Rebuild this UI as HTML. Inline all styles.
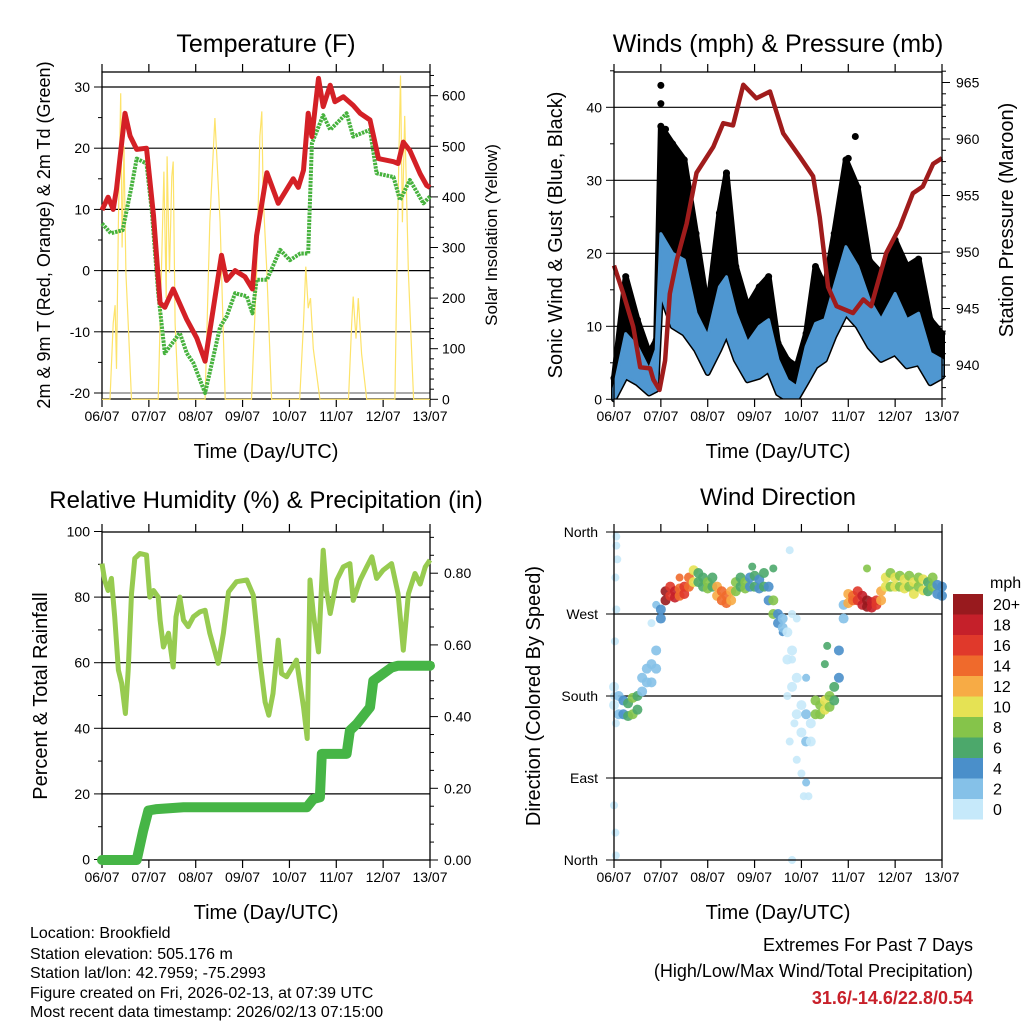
<!DOCTYPE html>
<html><head><meta charset="utf-8"><style>
html,body{margin:0;padding:0;background:#fff;width:1024px;height:1024px;overflow:hidden}
svg{display:block;font-family:"Liberation Sans",Arial,sans-serif}
</style></head><body>
<svg id="root" width="1024" height="1024" viewBox="0 0 1024 1024" xmlns="http://www.w3.org/2000/svg"></svg>
<script>
// ---------- DATA ----------
const dayLabels = ["06/07","07/07","08/07","09/07","10/07","11/07","12/07","13/07"];
// Temperature panel
const tempT = [0,.13,.24,.31,.49,.6,.74,.95,1.1,1.24,1.34,1.52,1.81,2.02,2.2,2.38,2.55,2.66,2.84,3.05,3.21,3.3,3.52,3.76,4.08,4.19,4.3,4.4,4.48,4.62,4.72,4.87,4.97,5.15,5.36,5.51,5.72,5.9,6.22,6.32,6.43,6.57,6.79,6.93,7.0];
const tempV = [9.9,12,10,13.3,25.7,22,19.8,20,9,-5.3,-6,-3,-8,-11,-14.8,-6,2.5,-1.6,0,-1,-3,5.7,16,11,15,13.6,16.4,25.7,21.9,31.4,26.8,30.3,27.6,28.4,27,25.7,24.6,18.3,17.8,17.5,21,19.6,15.8,13.9,13.6];
const dewT = [0,.19,.44,.63,.74,.95,1.06,1.2,1.34,1.66,1.81,1.95,2.2,2.52,2.66,2.84,3.09,3.21,3.3,3.52,3.8,4.01,4.23,4.4,4.48,4.72,4.87,5.22,5.36,5.72,5.86,6.22,6.36,6.57,6.86,7.0];
const dewV = [7.7,6.1,6.6,13.7,18.3,17.5,9.9,-3.7,-13.5,-10.2,-13.5,-15.1,-20,-9.2,-7.5,-3.7,-4.2,-7,-1.5,-1.5,3.4,1.7,2.8,2.8,20.8,25.4,23,25.7,21.9,23,15.9,15.3,11.5,14.8,11,12.1];
const solarT = [0,.17,.24,.28,.31,.35,.40,.43,.47,.51,.56,.63,1.2,1.32,1.37,1.39,1.44,1.49,1.52,1.56,1.63,2.2,2.3,2.41,2.52,2.63,3.19,3.3,3.37,3.41,3.44,3.52,3.62,4.22,4.3,4.35,4.4,4.45,4.51,4.65,5.26,5.33,5.36,5.42,5.47,5.54,5.65,6.25,6.32,6.37,6.41,6.46,6.54,6.65,7.0];
const solarV = [0,0,150,186,60,350,605,300,500,250,150,0,0,450,200,480,250,440,470,150,0,0,350,556,350,0,0,250,520,569,400,250,0,0,150,262,180,200,100,0,0,150,203,120,200,90,0,0,400,640,350,560,250,0,0];
// Winds panel
const windT = [0,.25,.5,.75,.9,1.0,1.25,1.5,1.75,2.0,2.25,2.4,2.6,2.85,3.1,3.3,3.5,3.7,3.9,4.1,4.3,4.5,4.7,4.95,5.2,5.45,5.7,6.0,6.25,6.5,6.75,7.0];
const gustTop = [2.9,16.8,10.9,6.3,8.1,37.4,35,32.8,22.7,12.2,25.5,31,18.2,12.7,15.4,16.8,7.7,5.4,4.5,9,18.2,15.4,22.7,32.8,29,19,17.3,21.8,18.2,19.2,10.9,9];
const windTop = [1.5,9,7.2,4,6.8,22.7,20,19.1,11.8,8.6,15.4,16.8,11.8,7.7,10,10.9,5.4,2.6,1.7,7.2,10.4,10.9,15.4,20.9,18.2,13.6,10.9,14.5,10.9,11.8,6.3,5.4];
const windLow = [0,3.1,2.2,.8,1.3,14.5,10,9,6.8,3.6,6.8,9,5.4,2.6,3.1,4,.8,0,0,2.2,4.5,5.4,8.6,11.8,10,7.2,5.4,6.3,4.5,4.9,2.2,3.1];
const gustPeakT = [1.0,1.0,1.05,2.4,5.15,5.0,1.1,1.3];
const gustPeakV = [43,40.5,35,31,36,33,37,34];
const presT = [0,.2,.41,.56,.77,.84,.97,1.09,1.19,1.34,1.55,1.76,2.12,2.33,2.54,2.76,3.04,3.33,3.61,3.97,4.25,4.39,4.57,4.75,5.1,5.32,5.49,5.81,6.1,6.38,6.59,6.81,7.0];
const presV = [948.8,946.3,943.4,939.8,939.7,938.7,937.8,940.4,946.3,949.3,952.5,957,959.3,961.4,961.2,964.8,963.6,964.2,960.5,958.4,956.7,953.1,946.9,945.2,944.6,945.8,945.2,949.9,952.2,955.2,955.8,957.8,958.3];
// RH & precip panel
const rhT = [0,.06,.13,.2,.27,.35,.42,.5,.56,.63,.7,.81,.95,1.02,1.1,1.2,1.24,1.31,1.42,1.52,1.58,1.66,1.74,1.84,1.95,2.09,2.2,2.3,2.48,2.59,2.7,2.87,3.09,3.23,3.37,3.48,3.56,3.65,3.76,3.83,3.94,4.15,4.3,4.38,4.44,4.51,4.62,4.72,4.79,4.87,5.01,5.15,5.29,5.36,5.51,5.65,5.76,5.86,6.0,6.18,6.32,6.43,6.54,6.68,6.79,6.9,7.0];
const rhV = [90.2,85,82,85.7,74,57.7,53.7,44.5,57.7,81,91.8,93.3,92.8,80,82,80,73,64.8,69,58.7,74,80,73,71,74,75.5,76,69,59.8,69,81.6,84.7,85.2,80.6,60.8,48,44,50.6,66.9,56.7,55.7,60.8,46.5,36.9,85.2,75,63.3,94.3,82,75,85.2,89.2,90.2,79,85.2,89.2,92.3,85.7,88.2,90.2,81,63.8,81,87.2,84,89.2,91.3];
const rainT = [0,.74,.88,.99,1.17,1.74,4.37,4.51,4.65,4.69,5.22,5.29,5.44,5.72,5.79,5.94,6.18,6.32,7.0];
const rainV = [0,0,.082,.138,.142,.147,.147,.17,.175,.296,.296,.361,.38,.426,.5,.514,.537,.542,.542];
// Wind direction panel
const dirT = [0,.1,.2,.3,.4,.5,.6,.7,.8,.9,1,1.1,1.2,1.3,1.4,1.5,1.6,1.7,1.8,1.9,2,2.1,2.2,2.3,2.4,2.5,2.6,2.7,2.8,2.9,3,3.1,3.2,3.3,3.4,3.5,3.6,3.7,3.8,3.9,4,4.1,4.2,4.3,4.4,4.5,4.6,4.7,4.8,4.9,5,5.1,5.2,5.3,5.4,5.5,5.6,5.7,5.8,5.9,6,6.1,6.2,6.3,6.4,6.5,6.6,6.7,6.8,6.9,7];
const dirA = [190,180,175,172,178,180,200,210,215,230,275,295,300,295,298,300,310,318,315,310,305,310,300,295,290,295,305,310,305,310,312,308,315,300,285,270,265,250,230,200,170,160,150,175,170,175,180,190,230,280,292,290,295,290,285,283,285,295,310,315,310,312,308,312,305,310,308,305,310,302,300];
const dirB = [170,160,160,158,160,165,185,195,195,210,265,285,290,288,290,292,300,305,305,300,298,300,290,285,282,285,295,300,298,300,300,298,300,285,270,260,255,220,190,160,140,130,130,160,160,165,168,175,200,265,282,285,285,280,278,277,280,285,300,300,300,300,298,300,292,300,296,295,300,292,290];
const dirSpd = [1,3,5,7,8,7,2,2,3,2,4,20,16,18,15,17,14,10,7,6,8,7,12,14,15,13,9,6,8,5,7,4,6,5,9,4,3,1,1,1,1,2,1,8,9,10,8,7,4,3,12,14,16,19,20,19,17,12,10,8,10,9,11,8,10,8,11,6,8,4,4];
const outT = [0.05,0.05,0.07,0.03,0.05,0.02,0.0,0.04,0.0,0.03,0.04,0.8,0.9,3.75,3.8,3.9,3.8,3.7,3.85,3.75,3.9,4.0,4.1,4.05,4.15,3.8,4.1,3.6,4.55,4.5,1.4,2.95,3.4,5.4];
const outD = [355,345,330,310,275,240,180,150,60,30,5,260,280,340,270,265,220,180,150,130,110,95,85,70,70,0,200,250,235,215,310,322,320,320];
const outS = [0,0,0,0,0,0,1,0,1,1,0,1,3,0,0,0,1,0,0,0,0,0,2,0,0,0,3,4,6,7,15,6,6,8];
const cbColors = ["#c6e9fa","#85c1e8","#4a8fca","#4ca86b","#85c44a","#e5e254","#f7ab45","#ef6a2c","#e0392b","#c5202a","#981a1e"];
const cbLabels = ["0","2","4","6","8","10","12","14","16","18","20+"];

// ---------- HELPERS ----------
const NS = "http://www.w3.org/2000/svg";
const root = document.getElementById("root");
function el(tag, attrs, parent){ const e=document.createElementNS(NS,tag); for(const k in attrs) e.setAttribute(k,attrs[k]); (parent||root).appendChild(e); return e; }
function txt(s, x, y, size, anchor, parent, extra){ const t=el("text",Object.assign({x:x,y:y,"font-size":size,"text-anchor":anchor||"middle",fill:"#000"},extra||{}),parent); t.textContent=s; return t; }
function linePath(xs, ys){ return xs.map((x,i)=>(i?"L":"M")+x.toFixed(1)+","+ys[i].toFixed(1)).join(""); }

function frame(g, x0, x1, y0, y1, xs){
  const r = el("rect",{x:x0,y:y0,width:x1-x0,height:y1-y0,fill:"none",stroke:"#000","stroke-width":1.3},g);
  
  
  for(let d=0; d<=7; d++){
    const x = xs(d);
    el("line",{x1:x,x2:x,y1:y1,y2:y1+8,stroke:"#000","stroke-width":1.2},g);
    el("line",{x1:x,x2:x,y1:y0,y2:y0-8,stroke:"#000","stroke-width":1.2},g);
    const t = txt(dayLabels[d], x, y1+22, 14, "middle", g);
    
    
  }
}
function hgrid(g, x0, x1, y, col){ el("line",{x1:x0,x2:x1,y1:y,y2:y,stroke:col||"#000","stroke-width":1.2},g); }

// ---------- PANEL 1: TEMPERATURE ----------
(function(){
  const g = el("g",{});
  
  
  const X0=102,X1=430,Y0=72,Y1=399;
  const xs = d => X0 + d*(X1-X0)/7;
  const yL = v => 393 - (v+20)*6.12;
  const yR = s => 399.3 - s*0.506;
  [30,20,10,0,-10].forEach(v=>hgrid(g,X0,X1,yL(v)));
  hgrid(g,X0,X1,yL(-20),"#777");
  frame(g,X0,X1,Y0,Y1,xs);
  for(let v=-20; v<=30; v+=10){ el("line",{x1:X0-8,x2:X0,y1:yL(v),y2:yL(v),stroke:"#000"},g);
    const t=txt(String(v),X0-12,yL(v)+5,14,"end",g);
    
     }
  for(let v=-15; v<=25; v+=10){ el("line",{x1:X0-4,x2:X0,y1:yL(v),y2:yL(v),stroke:"#000"},g); }
  for(let s=0; s<=640; s+=20){ const big=s%100===0; el("line",{x1:X1,x2:X1+(big?8:4),y1:yR(s),y2:yR(s),stroke:"#000"},g); }
  for(let s=0; s<=600; s+=100){ const t=txt(String(s),X1+12,yR(s)+5,14,"start",g);
    
     }
  const sol = el("path",{d:linePath(solarT.map(xs),solarV.map(yR)),fill:"none",stroke:"#fde36a","stroke-width":1.2},g);
  
  
  const dew = el("path",{d:linePath(dewT.map(xs),dewV.map(yL)),fill:"none",stroke:"#47b23e","stroke-width":4,"stroke-dasharray":"2.5 1","stroke-linejoin":"round"},g);
  
  
  const tmp = el("path",{d:linePath(tempT.map(xs),tempV.map(yL)),fill:"none",stroke:"#d42026","stroke-width":5,"stroke-linejoin":"round"},g);
  
  
  const ti=txt("Temperature (F)",266,52,25,"middle",g);  
  const xl=txt("Time (Day/UTC)",266,458,20,"middle",g);  
  const yl=txt("2m & 9m T (Red, Orange) & 2m Td (Green)",0,0,18,"middle",g,{transform:"translate(50,235) rotate(-90)"});  
  const yr=txt("Solar Insolation (Yellow)",0,0,17,"middle",g,{transform:"translate(497,235) rotate(-90)"});  
})();

// ---------- PANEL 2: WINDS ----------
(function(){
  const g = el("g",{});
  
  
  const X0=614,X1=942,Y0=72,Y1=399;
  const xs = d => X0 + d*(X1-X0)/7;
  const yL = v => 399.3 - v*7.3;
  const yR = p => 365 - (p-940)*11.3;
  [10,20,30,40].forEach(v=>hgrid(g,X0,X1,yL(v)));
  const gp = linePath(windT.map(xs),gustTop.map(yL)) + windT.slice().reverse().map(t=>"L"+xs(t).toFixed(1)+","+yL(windLow[windT.indexOf(t)]).toFixed(1)).join("")+"Z";
  const gb = el("path",{d:gp,fill:"#000",stroke:"#000","stroke-width":6,"stroke-linejoin":"round"},g);
  
  
  windT.forEach((t,i)=>{ const c=el("circle",{cx:xs(t),cy:yL(gustTop[i]),r:3.5,fill:"#000"},g);
    
     });
  gustPeakT.forEach((t,i)=>{ const c=el("circle",{cx:xs(t),cy:yL(gustPeakV[i]),r:3.5,fill:"#000"},g);
    
     });
  const wp = linePath(windT.map(xs),windTop.map(yL)) + windT.slice().reverse().map(t=>"L"+xs(t).toFixed(1)+","+yL(windLow[windT.indexOf(t)]).toFixed(1)).join("")+"Z";
  const wb = el("path",{d:wp,fill:"#4f97d1",stroke:"#4f97d1","stroke-width":3,"stroke-linejoin":"round"},g);
  
  
  const pr = el("path",{d:linePath(presT.map(xs),presV.map(yR)),fill:"none",stroke:"#a01c1c","stroke-width":4.5,"stroke-linejoin":"round"},g);
  
  
  el("rect",{x:X0,y:Y1,width:X1-X0,height:12,fill:"#fff"},g);
  frame(g,X0,X1,Y0,Y1,xs);
  for(let v=0; v<=40; v+=10){ el("line",{x1:X0-8,x2:X0,y1:yL(v),y2:yL(v),stroke:"#000"},g);
    const t=txt(String(v),X0-12,yL(v)+5,14,"end",g);
    
     }
  for(let v=5; v<=45; v+=10){ el("line",{x1:X0-4,x2:X0,y1:yL(v),y2:yL(v),stroke:"#000"},g); }
  for(let p=937; p<=966; p++){ const big=p%5===0; el("line",{x1:X1,x2:X1+(big?8:4),y1:yR(p),y2:yR(p),stroke:"#000"},g); }
  for(let p=940; p<=965; p+=5){ const t=txt(String(p),X1+14,yR(p)+5,14,"start",g);
    
     }
  const ti=txt("Winds (mph) & Pressure (mb)",778,52,25,"middle",g);  
  const xl=txt("Time (Day/UTC)",778,458,20,"middle",g);  
  const yl=txt("Sonic Wind & Gust (Blue, Black)",0,0,20,"middle",g,{transform:"translate(562,235) rotate(-90)"});  
  const yr=txt("Station Pressure (Maroon)",0,0,20,"middle",g,{transform:"translate(1013,220) rotate(-90)"});  
})();

// ---------- PANEL 3: RH & PRECIP ----------
(function(){
  const g = el("g",{});
  
  
  const X0=102,X1=430,Y0=532,Y1=860;
  const xs = d => X0 + d*(X1-X0)/7;
  const yL = v => 859.5 - v*3.28;
  const yR = r => 860 - r*358.5;
  [80,60,40,20].forEach(v=>hgrid(g,X0,X1,yL(v)));
  frame(g,X0,X1,Y0,Y1,xs);
  for(let v=0; v<=100; v+=20){ el("line",{x1:X0-8,x2:X0,y1:yL(v),y2:yL(v),stroke:"#000"},g);
    const t=txt(String(v),X0-12,yL(v)+5,14,"end",g);
    
     }
  for(let v=10; v<=90; v+=20){ el("line",{x1:X0-4,x2:X0,y1:yL(v),y2:yL(v),stroke:"#000"},g); }
  for(let i=0; i<=18; i++){ const r=i*0.05; const big=i%4===0; el("line",{x1:X1,x2:X1+(big?8:4),y1:yR(r),y2:yR(r),stroke:"#000"},g); }
  for(let i=0; i<=4; i++){ const r=i*0.2; const t=txt(r.toFixed(2),X1+14,yR(r)+5,14,"start",g);
    
     }
  const rh = el("path",{d:linePath(rhT.map(xs),rhV.map(yL)),fill:"none",stroke:"#97cb50","stroke-width":5,"stroke-linejoin":"round"},g);
  
  
  const rn = el("path",{d:linePath(rainT.map(xs),rainV.map(yR)),fill:"none",stroke:"#46b546","stroke-width":10,"stroke-linejoin":"round","stroke-linecap":"round"},g);
  
  
  const ti=txt("Relative Humidity (%) & Precipitation (in)",266,508,24,"middle",g);  
  const xl=txt("Time (Day/UTC)",266,919,20,"middle",g);  
  const yl=txt("Percent & Total Rainfall",0,0,20,"middle",g,{transform:"translate(47,696) rotate(-90)"});  
})();

// ---------- PANEL 4: WIND DIRECTION ----------
(function(){
  const g = el("g",{});
  
  
  const X0=614,X1=942,Y0=532,Y1=860;
  const xs = d => X0 + d*(X1-X0)/7;
  const yD = d => 860 - d*0.9111;
  const col = s => cbColors[Math.min(10,Math.max(0,Math.floor(s/2)))];
  [90,180,270].forEach(v=>hgrid(g,X0,X1,yD(v)));
  outT.forEach((t,i)=>{ const c=el("circle",{cx:xs(t),cy:yD(outD[i]),r:4,fill:col(outS[i]),"fill-opacity":0.9},g);
    
     });
  dirT.forEach((t,i)=>{
    const c1=el("circle",{cx:xs(t),cy:yD(dirB[i]),r:5,fill:col(dirSpd[i]),"fill-opacity":0.9},g);
    
    
    const c2=el("circle",{cx:xs(t),cy:yD(dirA[i]),r:5,fill:col(dirSpd[i]),"fill-opacity":0.9},g);
    
    
  });
  frame(g,X0,X1,Y0,Y1,xs);
  const dl=["North","East","South","West","North"];
  for(let i=0;i<=4;i++){ el("line",{x1:X0-8,x2:X0,y1:yD(i*90),y2:yD(i*90),stroke:"#000"},g);
    const t=txt(dl[i],X0-16,yD(i*90)+5,14,"end",g);
    
     }
  const cb = el("g",{},g);
  
  
  const bh=20.5, top=594;
  for(let i=0;i<11;i++){ const idx=10-i;
    const r=el("rect",{x:953,y:top+i*bh,width:30,height:bh,fill:cbColors[idx]},cb);
    
    
    const t=txt(cbLabels[idx],993,top+i*bh+16,16,"start",cb);
    
     }
  const u=txt("mph",990,588,16,"start",cb);  
  const ti=txt("Wind Direction",778,505,24,"middle",g);  
  const xl=txt("Time (Day/UTC)",778,919,20,"middle",g);  
  const yl=txt("Direction (Colored By Speed)",0,0,20,"middle",g,{transform:"translate(540,696) rotate(-90)"});  
})();

// ---------- FOOTER ----------
(function(){
  const info = ["Location: Brookfield","Station elevation: 505.176 m","Station lat/lon: 42.7959; -75.2993","Figure created on Fri, 2026-02-13, at 07:39 UTC","Most recent data timestamp: 2026/02/13 07:15:00"];
  const ys = [938,959,978,998,1017];
  info.forEach((s,i)=>{ const t=txt(s,30,ys[i],16,"start");
    
     });
  const a=txt("Extremes For Past 7 Days",973,951,18,"end");  
  const b=txt("(High/Low/Max Wind/Total Precipitation)",973,977,18,"end");  
  const c=txt("31.6/-14.6/22.8/0.54",973,1004,18,"end",null,{fill:"#c8202a","font-weight":"bold"});  
})();
</script>
</body></html>
